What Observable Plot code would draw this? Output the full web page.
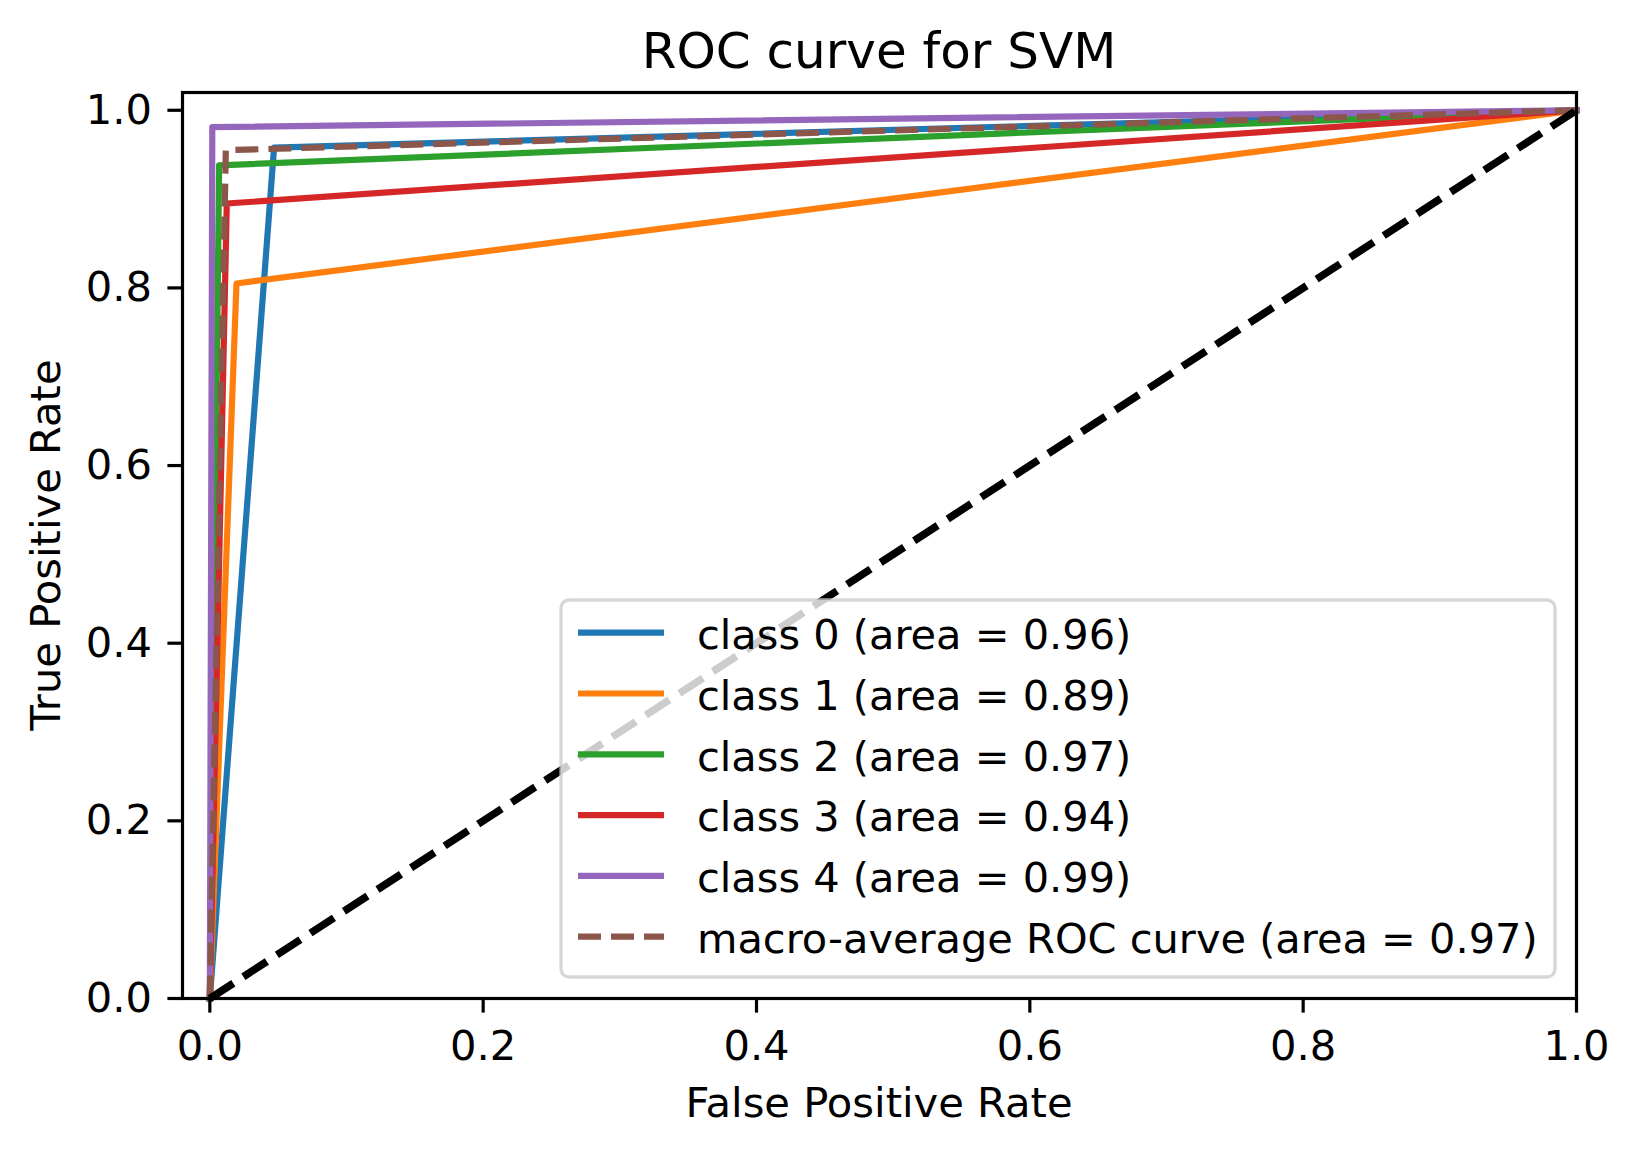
<!DOCTYPE html>
<html>
<head>
<meta charset="utf-8">
<script src="https://cdn.jsdelivr.net/npm/d3@7"></script>
<script src="https://cdn.jsdelivr.net/npm/@observablehq/plot@0.6"></script>
<style>
  html, body { margin: 0; padding: 0; background: #fff; }
  #chart { position: relative; width: 1640px; height: 1154px; }
  #chart svg { display: block; }
</style>
</head>
<body>
<div id="chart"></div>
<script>
// ---- data ----
const classNames = ["class 0", "class 1", "class 2", "class 3", "class 4"];
const classAreas = [0.96, 0.89, 0.97, 0.94, 0.99];
const fpr0 = [0, 0.047, 1],  tpr0 = [0, 0.958, 1];
const fpr1 = [0, 0.0195, 1], tpr1 = [0, 0.805, 1];
const fpr2 = [0, 0.0068, 1], tpr2 = [0, 0.938, 1];
const fpr3 = [0, 0.0124, 1], tpr3 = [0, 0.895, 1];
const fpr4 = [0, 0.0018, 1], tpr4 = [0, 0.981, 1];
const macroName = "macro-average ROC curve";
const macroArea = 0.97;
const macroFpr = [0, 0.0117, 1], macroTpr = [0, 0.955, 1];
const chanceFpr = [0, 1], chanceTpr = [0, 1];
const xTicks = [0.0, 0.2, 0.4, 0.6, 0.8, 1.0];
const yTicks = [0.0, 0.2, 0.4, 0.6, 0.8, 1.0];
const titleText = "ROC curve for SVM";
const xLabel = "False Positive Rate";
const yLabel = "True Positive Rate";

// ---- build tables ----
const fprs = [fpr0, fpr1, fpr2, fpr3, fpr4];
const tprs = [tpr0, tpr1, tpr2, tpr3, tpr4];
const classRows = classNames.flatMap((name, i) =>
  fprs[i].map((f, j) => ({fpr: f, tpr: tprs[i][j], series: name})));
const macroRows = macroFpr.map((f, j) => ({fpr: f, tpr: macroTpr[j], series: macroName}));
const chanceRows = chanceFpr.map((f, j) => ({fpr: f, tpr: chanceTpr[j]}));

const palette = d3.schemeCategory10; // same as matplotlib tab10
const seriesDomain = [...classNames, macroName];
const FONT = "DejaVu Sans";
const TICKFS = 41.67;
const fmt = d3.format(".1f");

const W = 1640, H = 1154;
const mL = 182, mR = 64, mT = 92, mB = 156;

const plot = Plot.plot({
  width: W,
  height: H,
  marginLeft: mL, marginRight: mR, marginTop: mT, marginBottom: mB,
  style: {fontFamily: FONT, color: "black", background: "white", overflow: "visible"},
  x: {domain: [-0.02, 1.0]},
  y: {domain: [0, 1.02]},
  color: {domain: seriesDomain, range: palette.slice(0, seriesDomain.length)},
  marks: [
    Plot.line(classRows, {x: "fpr", y: "tpr", z: "series", stroke: "series",
      strokeWidth: 6.2, strokeLinecap: "square", strokeLinejoin: "round"}),
    Plot.line(macroRows, {x: "fpr", y: "tpr", stroke: "series",
      strokeWidth: 6.2, strokeDasharray: "23,10", strokeLinecap: "butt", strokeLinejoin: "round"}),
    Plot.line(chanceRows, {x: "fpr", y: "tpr", stroke: "black",
      strokeWidth: 7.6, strokeDasharray: "28,12", strokeLinecap: "butt"}),
    Plot.axisX(xTicks, {tickFormat: fmt, tickSize: 14.6, tickPadding: 17, fontSize: TICKFS,
      strokeWidth: 3.2, label: null}),
    Plot.axisY(yTicks, {tickFormat: fmt, tickSize: 14.6, tickPadding: 16, fontSize: TICKFS,
      strokeWidth: 3.2, label: null}),
    Plot.frame({stroke: "black", strokeWidth: 3.2})
  ]
});

document.getElementById("chart").appendChild(plot);
const svg = d3.select(plot);

// title and axis labels
svg.append("text")
  .attr("x", (mL + W - mR) / 2).attr("y", 68)
  .attr("text-anchor", "middle").attr("font-family", FONT).attr("font-size", 50)
  .attr("fill", "black").text(titleText);
svg.append("text")
  .attr("x", (mL + W - mR) / 2).attr("y", 1117)
  .attr("text-anchor", "middle").attr("font-family", FONT).attr("font-size", TICKFS)
  .attr("fill", "black").text(xLabel);
svg.append("text")
  .attr("transform", `translate(60,${(mT + H - mB) / 2}) rotate(-90)`)
  .attr("text-anchor", "middle").attr("font-family", FONT).attr("font-size", TICKFS)
  .attr("fill", "black").text(yLabel);

// legend
const LFS = 41.5;
const legendItems = [
  ...classNames.map((n, i) => ({label: `${n} (area = ${classAreas[i].toFixed(2)})`, color: palette[i], dash: null})),
  {label: `${macroName} (area = ${macroArea.toFixed(2)})`, color: palette[5], dash: "23,10"}
];
const lg = svg.append("g");
lg.append("rect")
  .attr("x", 561).attr("y", 600).attr("width", 994).attr("height", 377).attr("rx", 8)
  .attr("fill", "white").attr("fill-opacity", 0.8)
  .attr("stroke", "#cccccc").attr("stroke-opacity", 0.8).attr("stroke-width", 3.3);
legendItems.forEach((it, i) => {
  const base = 649 + 60.8 * i;
  const ln = lg.append("line")
    .attr("x1", 578).attr("x2", 664).attr("y1", base - 16.3).attr("y2", base - 16.3)
    .attr("stroke", it.color).attr("stroke-width", 6.2).attr("stroke-linecap", "butt");
  if (it.dash) ln.attr("stroke-dasharray", it.dash);
  lg.append("text")
    .attr("x", 697).attr("y", base)
    .attr("text-anchor", "start")
    .attr("font-family", FONT).attr("font-size", LFS).attr("fill", "black")
    .text(it.label);
});
</script>
</body>
</html>
